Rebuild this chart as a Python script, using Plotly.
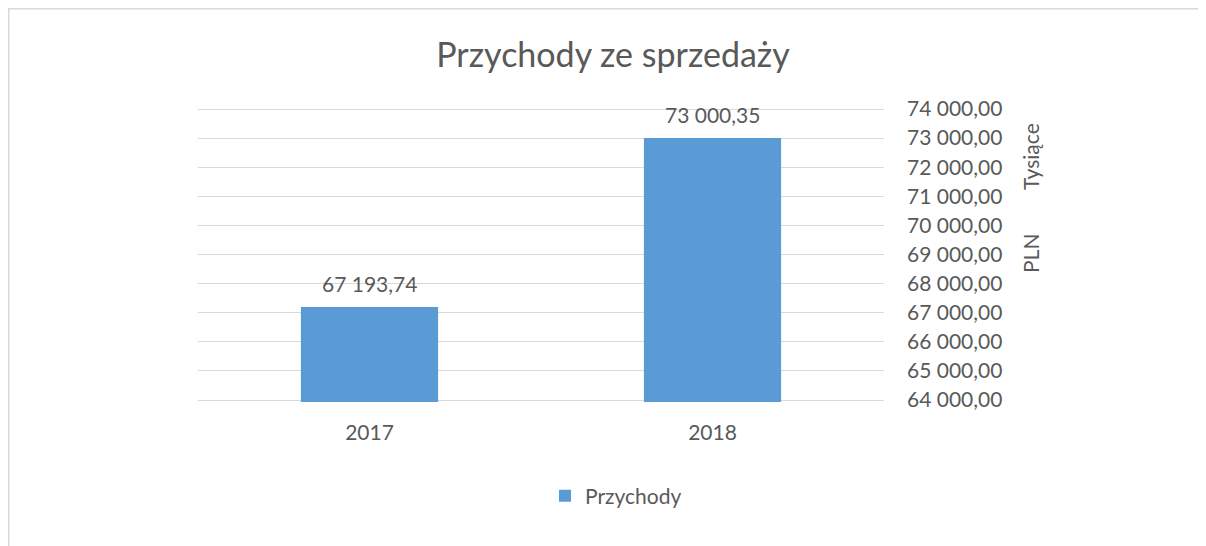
import plotly.graph_objects as go

categories = ["2017", "2018"]
values = [67193.74, 73000.35]
series_name = "Przychody"
title_text = "Przychody ze sprzedaży"
axis_title = "PLN"
units_label = "Tysiące"
y_min, y_max, y_step = 64000, 74000, 1000

# page has an 8px body margin; figure coordinates = page coordinates - 8
OFF = 8
EXTRA = 2  # px of padding above/below the range so edge grid lines are drawn
W, H = 1198, 538
L, R, T, B = 190, 322, 101 - EXTRA, 146 - EXTRA
pw, ph = W - L - R, H - T - B
pad = (y_max - y_min) * EXTRA / (ph - 2 * EXTRA)

def px_x(x):  # page x -> paper
    return (x - OFF - L) / pw

def px_y(y):  # page y -> paper
    return (H - B - (y - OFF)) / ph

FONT = "Lato"
GREY = "#595959"
FS = 21

fig = go.Figure()
fig.add_trace(go.Bar(
    x=categories, y=values, name=series_name,
    marker=dict(color="#5b9bd5", line=dict(width=0)),
    width=0.4,
    showlegend=True,
))

for i, v in enumerate(values):
    fig.add_annotation(x=i, y=v, xref="x", yref="y",
                       text=f"{v:,.2f}".replace(",", " ").replace(".", ","),
                       showarrow=False, xanchor="center", yanchor="middle", yshift=24,
                       font=dict(family=FONT, size=FS, color=GREY))

fig.update_layout(
    width=W, height=H,
    margin=dict(l=L, r=R, t=T, b=B, autoexpand=False),
    paper_bgcolor="white", plot_bgcolor="white",
    separators=", ",
    font=dict(family=FONT, color=GREY, size=FS),
    title=dict(text=title_text, x=(613 - OFF) / W, xanchor="center", xref="container",
               y=1 - (55 - OFF) / H, yanchor="middle", yref="container",
               font=dict(family=FONT, size=34, color=GREY)),
    xaxis=dict(type="category", range=[-0.5, len(categories) - 0.5],
               showgrid=False, showline=False, zeroline=False,
               ticks="", ticklabelstandoff=16, automargin=False,
               tickfont=dict(family=FONT, size=FS, color=GREY)),
    yaxis=dict(side="right", range=[y_min - pad, y_max + pad], tick0=y_min, dtick=y_step,
               tickformat=",.2f", automargin=False,
               showgrid=True, gridcolor="#d9d9d9", gridwidth=1.3, zeroline=False,
               showline=False, ticks="", ticklabelstandoff=22,
               tickfont=dict(family=FONT, size=FS, color=GREY)),
    legend=dict(orientation="h", x=px_x(545), xanchor="left", xref="paper",
                y=px_y(496), yanchor="middle",
                font=dict(family=FONT, size=FS, color=GREY)),
    bargap=0.6,
)

fig.add_annotation(text=axis_title, xref="paper", yref="paper",
                   x=px_x(1030), y=px_y(254), xanchor="center", yanchor="middle",
                   textangle=-90, showarrow=False,
                   font=dict(family=FONT, size=FS, color=GREY))
fig.add_annotation(text=units_label, xref="paper", yref="paper",
                   x=px_x(1030), y=px_y(157), xanchor="center", yanchor="middle",
                   textangle=-90, showarrow=False,
                   font=dict(family=FONT, size=FS, color=GREY))

# chart border
fig.add_shape(type="rect", xref="paper", yref="paper", layer="above",
              x0=px_x(8.75), x1=px_x(1205.25), y0=px_y(560), y1=px_y(8.75),
              line=dict(color="#d9d9d9", width=1.5), fillcolor="rgba(0,0,0,0)")

fig.write_html("out.html")
